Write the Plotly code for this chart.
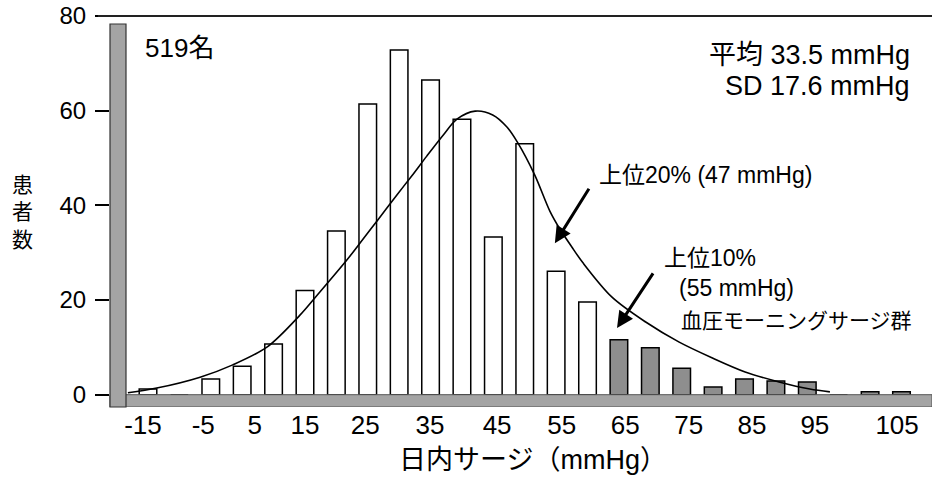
import plotly.graph_objects as go

# ---- data ----
SURGE_BIN = [-10, -5, 0, 5, 10, 15, 20, 25, 30, 35, 40, 45, 50, 55, 60,
             65, 70, 75, 80, 85, 90, 95, 100, 105, 110]
PATIENTS = [1.2, 0, 3.3, 6, 10.7, 22, 34.6, 61.4, 72.8, 66.5, 58.2, 33.3, 53, 26.1, 19.6,
            11.6, 9.9, 5.6, 1.6, 3.3, 2.9, 2.7, 0, 0.6, 0.6]
TOP_GROUP_FROM = 65  # bins shaded as 血圧モーニングサージ群

CURVE_X = [-13.2, -8.6, -1.7, 3.5, 9.0, 14.2, 16.8, 21.7, 24.2, 26.6, 29.7, 32.0, 34.4,
           37.0, 39.2, 42.1, 44.9, 47.2, 48.9, 51.6, 54.0, 55.6, 57.5, 59.3, 63.9, 69.2,
           74.6, 79.8, 85.1, 90.5, 95.4, 98.6]
CURVE_Y = [0.4, 1.4, 3.7, 6.3, 10.1, 16.8, 20.8, 28.5, 32.8, 36.9, 42.3, 46.2, 50.4,
           54.8, 58.2, 59.9, 59.1, 56.5, 53.2, 46.4, 38.8, 35.0, 31.2, 27.8, 20.6, 15.4,
           11.1, 7.8, 4.8, 2.7, 1.2, 0.6]

X_TICK_TEXT = ["-15", "-5", "5", "15", "25", "35", "45", "55", "65", "75", "85", "95", "105"]
X_TICK_AT = [-10.8, -1.2, 7.0, 15.0, 24.6, 34.9, 45.6, 55.9, 66.0, 76.1, 86.2, 96.2, 109.3]
Y_TICKS = [0, 20, 40, 60, 80]

ARROW_20_AT = (54.8, 32.0)   # 上位20% arrow tip (mmHg, patients)
ARROW_10_AT = (64.7, 14.1)   # 上位10% arrow tip

FONT = "Liberation Sans, Noto Sans CJK JP, sans-serif"
CJK = "Noto Sans CJK JP, sans-serif"

# ---- layout geometry (pixels) ----
W, H = 932, 479
L, R, T, B = 110, 0, 16, 72
PW, PH = W - L - R, H - T - B


def pxx(x):
    return (x - L) / PW


def pxy(y):
    return (H - B - y) / PH


colors = ["#8e8e8e" if v >= TOP_GROUP_FROM else "white" for v in SURGE_BIN]

fig = go.Figure()
fig.add_trace(go.Bar(
    x=SURGE_BIN, y=PATIENTS, width=2.8,
    marker=dict(color=colors, line=dict(color="black", width=1.5)),
    showlegend=False, hoverinfo="skip"))
fig.add_trace(go.Scatter(
    x=CURVE_X, y=CURVE_Y, mode="lines",
    line=dict(color="black", width=1.6, shape="spline", smoothing=0.9),
    showlegend=False, hoverinfo="skip"))

shapes = [
    # bottom gray band (x axis)
    dict(type="rect", xref="paper", yref="y", x0=0, x1=1, y0=-2.6, y1=0,
         fillcolor="#a4a4a4", line=dict(color="#555555", width=1), layer="above"),
    # left thick gray bar (y axis)
    dict(type="rect", xref="paper", yref="paper", x0=0, x1=16 / PW, y0=0, y1=pxy(24),
         fillcolor="#a4a4a4", line=dict(color="#333333", width=1.2), layer="above"),
    # top border line
    dict(type="line", xref="paper", yref="paper", x0=pxx(98), x1=1, y0=1, y1=1,
         line=dict(color="#222222", width=2)),
]

ann = []


def text(t, x, y, size, anchor="left", fam=FONT):
    ann.append(dict(text=t, x=pxx(x), y=pxy(y), xref="paper", yref="paper",
                    xanchor=anchor, yanchor="middle", showarrow=False,
                    font=dict(family=fam, size=size, color="black")))


text("519名", 143, 48, 26)
text("平均 33.5 mmHg", 912, 55, 27, anchor="right")
text("SD 17.6 mmHg", 912, 86, 27, anchor="right")
text("上位20% (47 mmHg)", 597, 175, 23)
text("上位10%", 662, 258, 23)
text("(55 mmHg)", 677, 288, 23)
text("血圧モーニングサージ群", 679, 319, 21, fam=CJK)
text("患<br>者<br>数", 22, 210, 21, anchor="center", fam=CJK)
text("日内サージ（mmHg）", 533, 460, 27, anchor="center")

for (ax_, ay_), (dx, dy) in [(ARROW_20_AT, (35, -56)), (ARROW_10_AT, (37, -56))]:
    ann.append(dict(x=ax_, y=ay_, xref="x", yref="y", ax=dx, ay=dy, text="",
                    showarrow=True, arrowhead=2, arrowsize=1.1, arrowwidth=3,
                    arrowcolor="black", standoff=0))

fig.update_layout(
    width=W, height=H, margin=dict(l=L, r=R, t=T, b=B),
    paper_bgcolor="white", plot_bgcolor="white",
    bargap=0.44, shapes=shapes, annotations=ann,
    font=dict(family=FONT, color="black"),
    xaxis=dict(range=[-16.05, 114.86], tickmode="array", tickvals=X_TICK_AT,
               ticktext=X_TICK_TEXT, ticks="", showgrid=False, zeroline=False,
               showline=False, tickfont=dict(size=26, family=FONT),
               ticklabelstandoff=0),
    yaxis=dict(range=[-2.6, 80], tickmode="array", tickvals=Y_TICKS, ticks="outside",
               ticklen=14, tickwidth=1.5, tickcolor="black", showgrid=False,
               zeroline=False, showline=False, tickfont=dict(size=24, family=FONT),
               ticklabelstandoff=4),
)

fig.write_html("out.html")
